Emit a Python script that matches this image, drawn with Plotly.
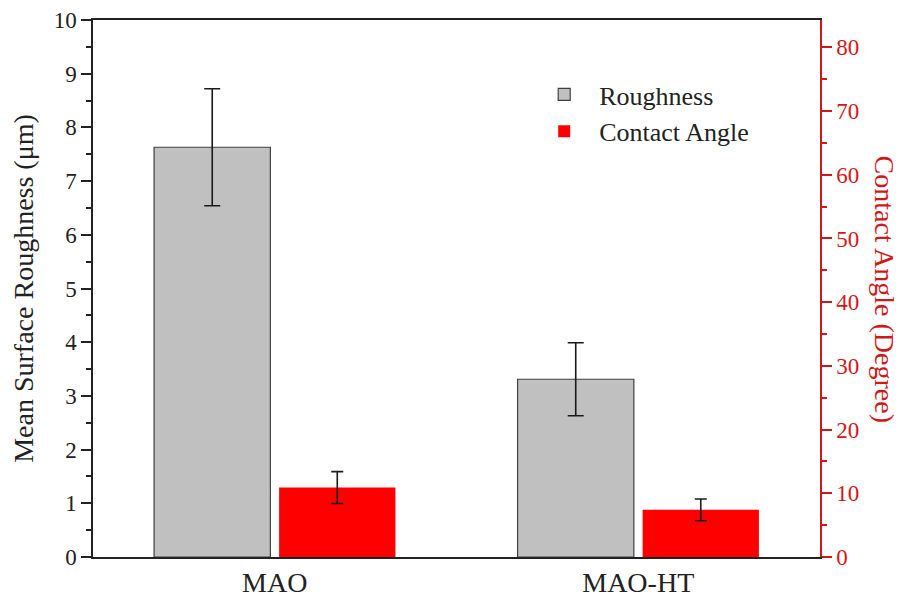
import plotly.graph_objects as go

categories = ["MAO", "MAO-HT"]
roughness = [7.63, 3.31]
roughness_err = [1.09, 0.68]
contact_angle = [10.9, 7.4]
contact_angle_err = [2.5, 1.7]

FONT = "Liberation Serif"
AXIS_RED = "#d01818"

fig = go.Figure()
fig.add_trace(go.Bar(
    x=categories, y=roughness, name="Roughness",
    marker=dict(color="#c0c0c0", line=dict(color="#404040", width=1.2)),
    error_y=dict(type="data", array=roughness_err, color="#1a1a1a", thickness=1.6, width=8),
    offsetgroup="1", yaxis="y",
))
fig.add_trace(go.Bar(
    x=categories, y=contact_angle, name="Contact Angle",
    marker=dict(color="#ff0000", line=dict(color="#ff0000", width=0)),
    error_y=dict(type="data", array=contact_angle_err, color="#1a1a1a", thickness=1.6, width=6),
    offsetgroup="2", yaxis="y2",
))

fig.update_layout(
    width=903, height=603,
    margin=dict(l=93, r=83, t=20, b=46),
    paper_bgcolor="white", plot_bgcolor="white",
    barmode="group", bargap=0.312, bargroupgap=0.07,
    font=dict(family=FONT, size=23, color="#222"),
    showlegend=True,
    legend=dict(x=0.60, y=0.905, xanchor="left", yanchor="top",
                bgcolor="rgba(0,0,0,0)", font=dict(size=26, color="#222"),
                itemwidth=60, tracegroupgap=0),
    xaxis=dict(
        range=[-0.5, 1.5], showline=True, linecolor="#222", linewidth=1.5,
        mirror=True, ticks="", showgrid=False, tickfont=dict(size=28),
        automargin=False,
    ),
    yaxis=dict(
        range=[0, 10], dtick=1, showline=True, linecolor="#222", linewidth=1.5,
        ticks="outside", ticklen=10, tickwidth=1.5, tickcolor="#222",
        minor=dict(dtick=0.5, ticks="outside", ticklen=5, tickwidth=1.5, tickcolor="#222"),
        showgrid=False, zeroline=False, automargin=False,
        title=dict(text="Mean Surface Roughness (μm)", font=dict(size=28), standoff=12),
        tickfont=dict(size=23),
    ),
    yaxis2=dict(
        range=[0, 84.3], dtick=10, overlaying="y", side="right",
        showline=True, linecolor=AXIS_RED, linewidth=1.5,
        ticks="outside", ticklen=10, tickwidth=1.5, tickcolor=AXIS_RED,
        minor=dict(dtick=5, ticks="outside", ticklen=5, tickwidth=1.5, tickcolor=AXIS_RED),
        showgrid=False, zeroline=False, automargin=False,
        tickfont=dict(size=23, color=AXIS_RED),
    ),
    annotations=[dict(
        text="Contact Angle (Degree)", textangle=90,
        xref="paper", yref="paper", x=1 + 64 / 727, y=0.5,
        xanchor="center", yanchor="middle", showarrow=False,
        font=dict(size=28, color=AXIS_RED, family=FONT),
    )],
)

fig.write_html("out.html", config={"displayModeBar": False},
               post_script="document.body.style.margin='0';")
